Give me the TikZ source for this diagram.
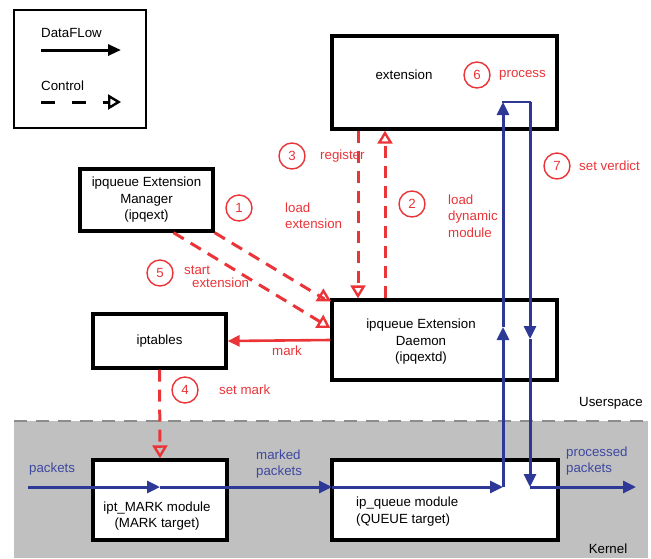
\documentclass[tikz,border=0pt]{standalone}
\usepackage{fontspec}
\setmainfont{Liberation Sans}
\usetikzlibrary{arrows.meta}

\definecolor{ctrlred}{RGB}{234,52,56}
\definecolor{flowblue}{RGB}{46,56,150}
\definecolor{textblue}{RGB}{62,72,160}
\definecolor{kernelgray}{RGB}{192,192,192}
\definecolor{linegray}{RGB}{140,140,140}

\begin{document}
\begin{tikzpicture}[x=1pt,y=-1pt,
  font=\fontsize{13.3}{16.5}\selectfont,
  box/.style={draw=black, line width=3.3pt, fill=white, inner sep=0pt},
  lbl/.style={inner sep=0pt, align=left},
  redlbl/.style={lbl, text=ctrlred, anchor=west},
  bluelbl/.style={lbl, text=textblue, anchor=west},
  num/.style={circle, draw=ctrlred, line width=1.4pt, minimum size=26pt,
    inner sep=0pt, text=ctrlred},
  flow/.style={draw=flowblue, line width=3pt, -{Triangle[length=13pt,width=12pt]}},
  ctrl/.style={draw=ctrlred, line width=3pt, dash pattern=on 12pt off 8pt,
    -{Triangle[open,length=13pt,width=15pt,line width=2.4pt]}},
  markline/.style={draw=ctrlred, line width=2.6pt, -{Triangle[length=12pt,width=11pt]}}]
  \useasboundingbox (0,0) rectangle (651,558);

  % kernel area
  \fill[kernelgray] (14,421) rectangle (648,558);
  \draw[linegray, line width=2pt, dash pattern=on 13pt off 9pt] (14,421) -- (648,421);
  \node[lbl] (usr) at (611,403) {Userspace};
  \node[lbl] (krn) at (608,549) {Kernel};

  % legend
  \node[box, line width=1.4pt, minimum width=132pt, minimum height=118pt] (lgd) at (80,69) {};
  \node[lbl, anchor=west] (dftxt) at (41,33) {DataFLow};
  \coordinate (dfa) at (41,50);
  \coordinate (dfb) at (121,50);
  \draw[flow, draw=black, -{Triangle[length=13pt,width=11pt]}] (dfa) -- (dfb);
  \node[lbl, anchor=west] (cttxt) at (41,86) {Control};
  \coordinate (cta) at (41,102);
  \coordinate (ctb) at (121,102);
  \draw[ctrl, draw=black, dash pattern=on 14pt off 17pt] (cta) -- (ctb);

  % boxes
  \node[box, minimum width=225pt, minimum height=93pt] (ext) at (444.5,82.5) {};
  \node[box, minimum width=133pt, minimum height=62pt, align=center] (mgr) at (146.5,200)
    {ipqueue Extension\\Manager\\(ipqext)};
  \node[box, minimum width=225pt, minimum height=80pt] (dmn) at (444.5,340) {};
  \node[box, minimum width=133pt, minimum height=54pt] (ipt) at (159.5,341) {iptables};
  \node[box, minimum width=134pt, minimum height=80pt] (iptm) at (160,500) {};
  \node[box, minimum width=226pt, minimum height=80pt] (qmod) at (445,500) {};

  \node[lbl] (exttxt) at (404,75) {extension};
  \node[lbl, align=center] (dmntxt) at (421,342) {ipqueue Extension\\Daemon\\(ipqextd)};
  \node[lbl, align=center] (iptmtxt) at (157,516) {ipt\_MARK module\\(MARK target)};
  \node[lbl, anchor=west] (qmodtxt) at (356,511.5) {ip\_queue module\\(QUEUE target)};

  % control
  \draw[ctrl] (mgr.south east) -- ([xshift=-7pt]dmn.north west) -- ++(0,-10);
  \draw[ctrl] ([xshift=27pt]mgr.south) -- ([yshift=12pt]dmn.west);
  \draw[ctrl] ([xshift=-86.5pt]ext.south) -- ([xshift=-86.5pt]dmn.north);
  \draw[ctrl] ([xshift=-59.5pt]dmn.north) -- ([xshift=-59.5pt]ext.south);
  \draw[markline] (dmn.west) -- (ipt.east);
  \draw[ctrl] (ipt.south) -- (iptm.north);

  \node[num] (n1) at (239,208) {1};
  \node[redlbl] (l1) at (285,215.5) {load\\extension};
  \node[num] (n2) at (412,204) {2};
  \node[redlbl] (l2) at (448,216) {load\\dynamic\\module};
  \node[num] (n3) at (292,156) {3};
  \node[redlbl] (l3) at (320,156) {register};
  \node[num] (n4) at (185,390) {4};
  \node[redlbl] (l4) at (219,390) {set mark};
  \node[num] (n5) at (160,273) {5};
  \node[redlbl] (l5) at (184,277) {start\\[-4pt]\hspace*{8pt}extension};
  \node[num] (n6) at (477,75) {6};
  \node[redlbl] (l6) at (499,75) {process};
  \node[num] (n7) at (557,166) {7};
  \node[redlbl] (l7) at (579,166) {set verdict};
  \node[lbl, text=ctrlred] (lmark) at (287,351) {mark};

  % data flow
  \coordinate (pin) at (28,487);
  \coordinate (mk) at (160,487);
  \coordinate (qin) at (332,487);
  \coordinate (qup) at (503,487);
  \coordinate (dup) at (503,327);
  \coordinate (eup) at (503,102);
  \coordinate (edn) at (530,102);
  \coordinate (ddn) at (530,339);
  \coordinate (qdn) at (530,487);
  \coordinate (pout) at (636,487);
  \draw[flow] (pin) -- (mk);
  \draw[flow] (mk) -- (qin);
  \draw[flow] (qin) -- (qup);
  \draw[flow] (qup) -- (dup);
  \draw[flow] (dup) -- (eup);
  \draw[flowblue, line width=2.6pt, line cap=rect] (eup) -- (edn);
  \draw[flow] (edn) -- (ddn);
  \draw[flow] (ddn) -- (qdn);
  \draw[flow] (qdn) -- (pout);

  \node[bluelbl] (lpk) at (29,469) {packets};
  \node[bluelbl] (lmpk) at (256,464) {marked\\packets};
  \node[bluelbl] (lppk) at (566,461) {processed\\packets};
\end{tikzpicture}
\end{document}
